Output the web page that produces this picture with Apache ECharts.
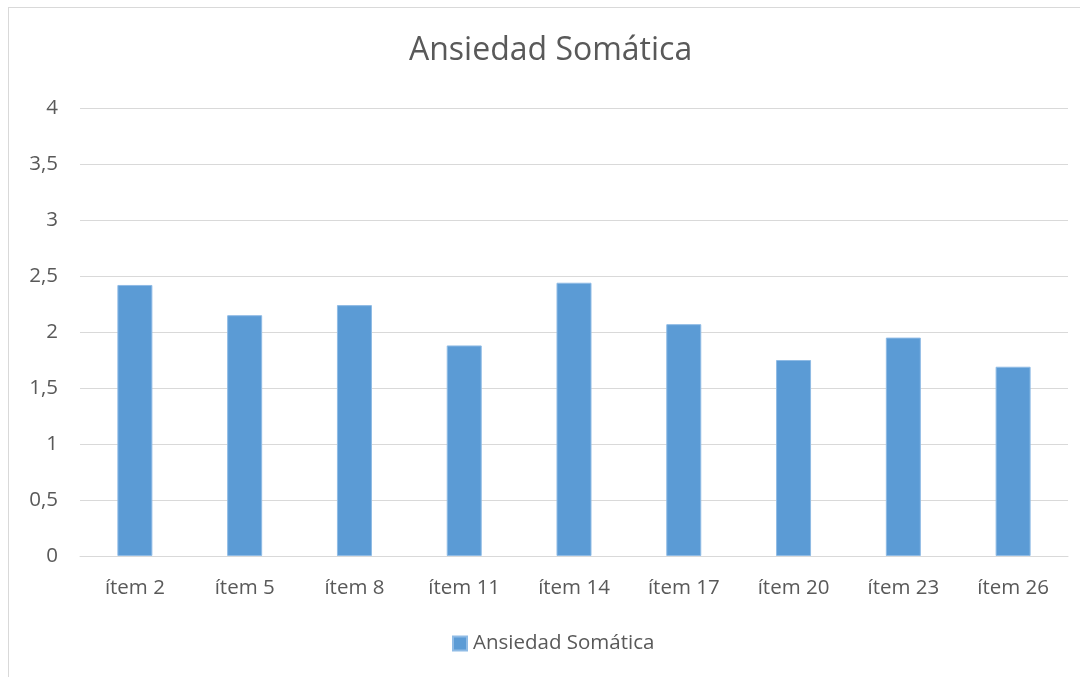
<!DOCTYPE html>
<html>
<head>
<meta charset="utf-8">
<script src="https://cdn.jsdelivr.net/npm/echarts@6/dist/echarts.min.js"></script>
<style>
html,body{margin:0;padding:0;background:#fff;}
#frame{position:absolute;left:8px;top:7px;width:1072px;height:670px;border-left:1px solid #d9d9d9;border-top:1px solid #d9d9d9;}
#chart{position:absolute;left:0;top:0;width:1080px;height:677px;}
</style>
</head>
<body>
<div id="frame"></div>
<div id="chart"></div>
<script>
const categories = ['ítem 2','ítem 5','ítem 8','ítem 11','ítem 14','ítem 17','ítem 20','ítem 23','ítem 26'];
const values = [2.42, 2.15, 2.24, 1.88, 2.44, 2.07, 1.75, 1.95, 1.69];
const seriesName = 'Ansiedad Somática';
const titleText = 'Ansiedad Somática';

const FONT = '"Open Sans", sans-serif';
const chart = echarts.init(document.getElementById('chart'), null, {renderer:'canvas'});
chart.setOption({
  backgroundColor: 'transparent',
  animation: false,
  title: {
    text: titleText, left: 404, top: 30,
    textStyle: {fontFamily: FONT, fontSize: 32, fontWeight: 'normal', color: '#595959'}
  },
  legend: {
    bottom: 18, left: 447, itemWidth: 14, itemHeight: 14, itemGap: 6,
    icon: 'rect',
    textStyle: {fontFamily: FONT, fontSize: 20.5, color: '#595959', padding: [0,0,0,1]},
    data: [seriesName]
  },
  grid: {left: 80, right: 12, top: 108, bottom: 121, containLabel: false},
  xAxis: {
    type: 'category', data: categories,
    axisLine: {lineStyle: {color: '#d9d9d9', width: 1}},
    axisTick: {show: false},
    axisLabel: {fontFamily: FONT, fontSize: 20.5, color: '#595959', margin: 22}
  },
  yAxis: {
    type: 'value', min: 0, max: 4, interval: 0.5,
    axisLine: {show: false}, axisTick: {show: false},
    splitLine: {lineStyle: {color: '#d9d9d9', width: 1}},
    axisLabel: {fontFamily: FONT, fontSize: 20.5, color: '#595959', margin: 22,
      formatter: v => String(v).replace('.', ',')}
  },
  series: [{
    name: seriesName, type: 'bar', data: values, barWidth: 35,
    itemStyle: {color: '#5b9bd5', borderColor: '#8fbbe5', borderWidth: 1}
  }]
});
</script>
</body>
</html>
